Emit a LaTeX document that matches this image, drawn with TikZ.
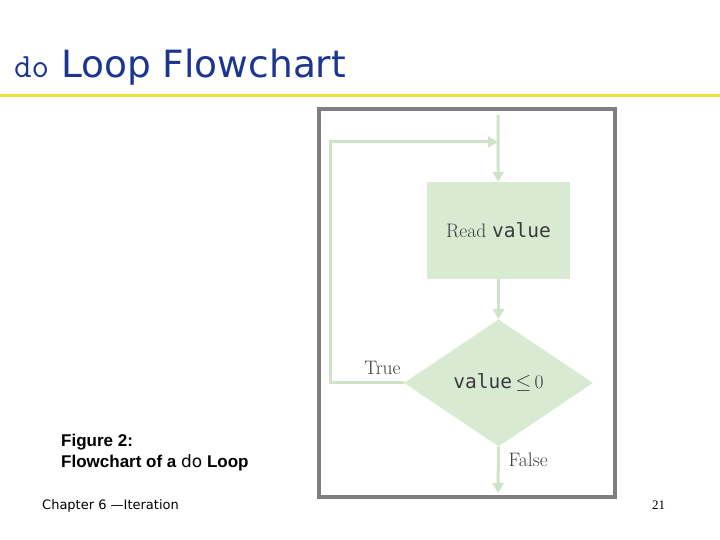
\documentclass[tikz,border=0pt]{standalone}
\usepackage{fontspec}
\usepackage{tikz}
\usetikzlibrary{positioning,shapes.geometric,arrows.meta}
\newfontfamily\titlefont{DejaVu Sans}
\newfontfamily\figfont{Liberation Sans}
\newfontfamily\codefont{DejaVu Sans Mono}
\newfontfamily\pagefont{Liberation Serif}
\definecolor{TitleBlue}{HTML}{1B3591}
\definecolor{RuleYellow}{HTML}{E9E23C}
\definecolor{FrameGray}{HTML}{7F7F7F}
\definecolor{BoxGreen}{HTML}{D9EAD3}
\definecolor{FlowGreen}{HTML}{CFE3C8}
\definecolor{LabelGray}{HTML}{3A3A3A}

\begin{document}
\begin{tikzpicture}[
			x=1pt, y=-1pt,
			flow/.style={draw=FlowGreen, line width=3pt, -{Triangle[length=10pt,width=11pt]}},
			lbl/.style={inner sep=0pt, text=LabelGray, font=\fontsize{19.5}{22}\selectfont}
			]
			\useasboundingbox (0,0) rectangle (720,540);
			
			% Title and rule
			\node[
			anchor=base west,
			inner sep=0pt,
			text=TitleBlue
			]
			(title) at (14,78)
			{{\ttfamily\fontsize{34}{40}\selectfont do}{\titlefont\fontsize{37.5}{44}\selectfont{} Loop Flowchart}};
			\draw[line width=3pt, RuleYellow] (0,95.5) -- (720,95.5);
			
			% Figure frame
			\draw[line width=4pt, FrameGray] (319,109) rectangle (615,497);
			
			% Read value
			\node[
			fill=BoxGreen,
			minimum width=143pt,
			minimum height=97pt,
			inner sep=0pt,
			lbl
			]
			(readbox) at (498.5,230.5)
			{Read {\codefont value}};
			
			% Condition
			\node[
			diamond,
			fill=BoxGreen,
			minimum width=189pt,
			minimum height=127pt,
			inner sep=0pt,
			lbl,
			below=40pt of readbox
			]
			(cond)
			{{\codefont value}\,$\leq$\,0};
			
			\coordinate (entry) at (498,115);
			\coordinate (join) at (498,142);
			\coordinate (loopleft) at (330,142);
			\coordinate (exit) at (498,493);
			
			% Connectors
			\draw[flow] (entry) -- (readbox);
			\draw[flow] (readbox) -- (cond);
			\draw[flow] (cond.west) -| (loopleft) -- (join);
			\draw[flow] (cond.south) -- (exit);
			
			\node[lbl, above left=8pt and 3pt of cond.west] (truelbl) {True};
			\node[lbl, below right=6pt and 10pt of cond.south] (falselbl) {False};
			
			% Caption and footer
			\node[
			anchor=base west,
			align=left,
			inner sep=0pt,
			font=\figfont\bfseries\fontsize{17}{21}\selectfont
			]
			(caption) at (61,467.5)
			{Figure 2:\\Flowchart of a {\titlefont\mdseries do} Loop};
			\node[anchor=base west, inner sep=0pt, font=\titlefont\fontsize{13}{15}\selectfont]
			(chapter) at (42,509) {Chapter 6 —Iteration};
			\node[anchor=base west, inner sep=0pt, font=\pagefont\fontsize{13}{15}\selectfont]
			(pagenum) at (652,509) {21};
			
		\end{tikzpicture}
\end{document}
